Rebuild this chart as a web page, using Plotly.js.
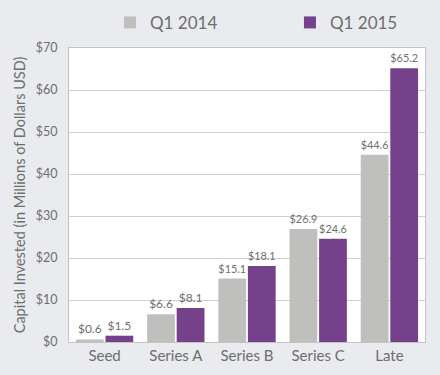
<!DOCTYPE html>
<html>
<head>
<meta charset="utf-8">
<script src="https://cdn.plot.ly/plotly-3.0.1.min.js"></script>
<style>html,body{margin:0;padding:0;background:#e9ebee;}#chart{width:440px;height:375px;}</style>
</head>
<body>
<div id="chart"></div>
<script>
const categories = ["Seed", "Series A", "Series B", "Series C", "Late"];
const q1_2014 = [0.6, 6.6, 15.1, 26.9, 44.6];
const q1_2015 = [1.5, 8.1, 18.1, 24.6, 65.2];
const seriesNames = ["Q1 2014", "Q1 2015"];
const yTickVals = [0, 10, 20, 30, 40, 50, 60, 70];
const yTickText = ["$0", "$10", "$20", "$30", "$40", "$50", "$60", "$70"];

const FONT = "Lato, 'Open Sans', sans-serif";
const traces = [
  {type: "bar", name: seriesNames[0], x: categories, y: q1_2014, legend: "legend",
   marker: {color: "#bfbfbd"}, texttemplate: "$%{y:.1f}", textposition: "outside",
   textfont: {family: FONT, size: 12, color: "#6e6e6e"}, cliponaxis: false},
  {type: "bar", name: seriesNames[1], x: categories, y: q1_2015, legend: "legend2",
   marker: {color: "#74418a"}, texttemplate: "$%{y:.1f}", textposition: "outside",
   textfont: {family: FONT, size: 12, color: "#6e6e6e"}, cliponaxis: false}
];
const legendStyle = (xpos) => ({orientation: "h", x: xpos, xanchor: "left", y: 0.987, yanchor: "top",
           yref: "container", xref: "container",
           font: {family: FONT, size: 17, color: "#6e6e6e"},
           bgcolor: "rgba(0,0,0,0)"});
const layout = {
  width: 440, height: 375,
  margin: {l: 69, r: 15, t: 48, b: 33, autoexpand: false},
  paper_bgcolor: "#e9ebee", plot_bgcolor: "#ffffff",
  font: {family: FONT, color: "#6e6e6e"},
  barmode: "group", bargap: 0.17, bargroupgap: 0.06,
  showlegend: true,
  legend: legendStyle(0.25),
  legend2: legendStyle(0.659),
  xaxis: {tickfont: {family: FONT, size: 15, color: "#6e6e6e"}, showline: true, mirror: true,
          linecolor: "#c4c4c4", linewidth: 1, ticks: "", fixedrange: true},
  yaxis: {range: [0, 70], tickvals: yTickVals, ticktext: yTickText,
          tickfont: {family: FONT, size: 12.5, color: "#6e6e6e"}, ticklabelstandoff: 8,
          gridcolor: "#d0d0d0", gridwidth: 1, showline: true, mirror: true,
          linecolor: "#c4c4c4", linewidth: 1, zeroline: false, ticks: "",
          title: {text: "Capital Invested (in Millions of Dollars USD)",
                  font: {family: FONT, size: 14.5, color: "#6e6e6e"}, standoff: 6}}
};
Plotly.newPlot("chart", traces, layout, {displayModeBar: false, staticPlot: true});
</script>
</body>
</html>
